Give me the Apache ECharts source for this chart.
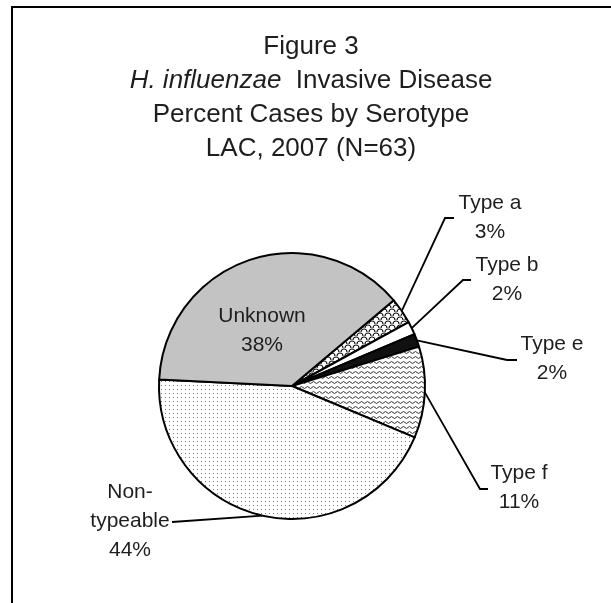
<!DOCTYPE html>
<html>
<head>
<meta charset="utf-8">
<script src="https://cdn.jsdelivr.net/npm/echarts@6/dist/echarts.min.js"></script>
<style>
    html, body { margin: 0; padding: 0; background: #fff; }
    #container1 { width: 611px; height: 603px; }
</style>
</head>
<body>
<div id="container1"></div>
<script>
// data (N=63)
var names = ['Type a', 'Type b', 'Type e', 'Type f', 'Non-typeable', 'Unknown'];
var cases = [2, 1, 1, 7, 28, 24];
var titleLines = ['Figure 3', '{it|H. influenzae}  Invasive Disease', 'Percent Cases by Serotype', 'LAC, 2007 (N=63)'];

// where the labels were dragged to (text centre, leader bend, leader end)
var labelSpots = {
    'Type a': { text: [490, 218], line: [[445, 218], [454, 218]] },
    'Type b': { text: [507, 280], line: [[463, 280], [471, 280]] },
    'Type e': { text: [552, 359], line: [[507, 360], [517, 360]] },
    'Type f': { text: [519, 488], line: [[480, 489], [488, 489]] },
    'Non-typeable': { text: [130, 521], line: [[172, 522], [172, 522]] },
    'Unknown': { text: [262, 331] }
};

function makeTile(w, h, draw) {
    var c = document.createElement('canvas');
    c.width = w;
    c.height = h;
    var ctx = c.getContext('2d');
    ctx.fillStyle = '#fff';
    ctx.fillRect(0, 0, w, h);
    draw(ctx);
    return { image: c, repeat: 'repeat' };
}

var scales = makeTile(8, 8, function (ctx) {
    ctx.strokeStyle = '#111';
    ctx.lineWidth = 1.2;
    ctx.beginPath();
    ctx.arc(4, 4, 3, Math.PI, 2 * Math.PI);
    ctx.stroke();
    ctx.beginPath();
    ctx.arc(0, 8, 3, Math.PI, 2 * Math.PI);
    ctx.stroke();
    ctx.beginPath();
    ctx.arc(8, 8, 3, Math.PI, 2 * Math.PI);
    ctx.stroke();
});
var waves = makeTile(6, 5, function (ctx) {
    ctx.strokeStyle = '#333';
    ctx.lineWidth = 1;
    ctx.beginPath();
    ctx.moveTo(0, 2.5);
    ctx.quadraticCurveTo(1.5, 0.5, 3, 2.5);
    ctx.quadraticCurveTo(4.5, 4.5, 6, 2.5);
    ctx.stroke();
});
var dots = makeTile(4, 4, function (ctx) {
    ctx.fillStyle = '#777';
    ctx.fillRect(1, 1, 1, 1);
});
var fills = [scales, '#ffffff', '#111111', waves, dots, '#c3c3c3'];

var dom = document.getElementById('container1');
var chart = echarts.init(dom);

var option = {
    backgroundColor: '#fff',
    animation: false,
    title: {
        text: titleLines.join('\n'),
        left: 311,
        top: 30,
        padding: 0,
        textAlign: 'center',
        textVerticalAlign: 'top',
        textStyle: {
            fontFamily: 'Liberation Sans',
            fontSize: 26,
            fontWeight: 'normal',
            color: '#1e1e1e',
            lineHeight: 34,
            rich: {
                it: {
                    fontFamily: 'Liberation Sans',
                    fontSize: 26,
                    fontStyle: 'italic',
                    color: '#1e1e1e',
                    lineHeight: 34
                }
            }
        }
    },
    graphic: [{
        type: 'rect',
        shape: { x: 12, y: 7, width: 800, height: 800 },
        style: { fill: 'none', stroke: '#000', lineWidth: 2 },
        silent: true
    }],
    series: [{
        type: 'pie',
        center: [292, 386],
        radius: 133,
        startAngle: 40.1,
        clockwise: true,
        avoidLabelOverlap: false,
        percentPrecision: 0,
        emphasis: { disabled: true },
        itemStyle: {
            borderColor: '#000',
            borderWidth: 2
        },
        label: {
            show: true,
            position: 'outside',
            fontFamily: 'Liberation Sans',
            fontSize: 21,
            color: '#1e1e1e',
            lineHeight: 29,
            formatter: function (p) {
                return p.name.replace('Non-', 'Non-\n') + '\n' + p.percent + '%';
            }
        },
        labelLine: {
            show: true,
            lineStyle: { color: '#000', width: 1.8 }
        },
        labelLayout: function (p) {
            var spot = labelSpots[names[p.dataIndex]];
            var out = { x: spot.text[0], y: spot.text[1], align: 'center', verticalAlign: 'middle' };
            if (spot.line && p.labelLinePoints) {
                out.labelLinePoints = [p.labelLinePoints[0], spot.line[0], spot.line[1]];
            }
            return out;
        },
        data: names.map(function (n, i) {
            var item = { name: n, value: cases[i], itemStyle: { color: fills[i] } };
            if (n === 'Unknown') {
                item.label = { position: 'inside' };
                item.labelLine = { show: false };
            }
            return item;
        })
    }]
};

if (option && typeof option === "object") {
    chart.setOption(option, true);
}
</script>
</body>
</html>
